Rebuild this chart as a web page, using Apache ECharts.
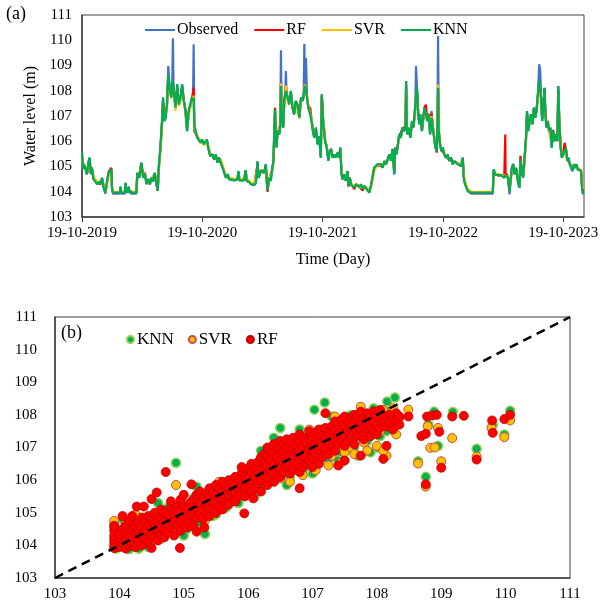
<!DOCTYPE html>
<html>
<head>
<meta charset="utf-8">
<script src="https://cdn.jsdelivr.net/npm/echarts@6/dist/echarts.min.js"></script>
<style>
html,body{margin:0;padding:0;background:#fff;}
#chart{width:607px;height:606px;}
</style>
</head>
<body>
<div id="chart"></div>
<script>
// ---- Panel (a): time series (day offsets from 19-10-2019) ----
const startYear = 2019;
const days = [
0,2,5,10,15,20,23,27,30,35,
41,46,51,56,61,66,71,76,81,86,
89,91,94,115,117,119,130,132,134,137,
139,142,144,147,149,165,168,174,180,186,
191,196,201,206,211,216,221,226,230,233,
238,243,246,250,254,258,262,266,271,274,
276,278,284,289,294,299,304,309,314,319,
324,329,334,337,339,341,345,350,355,360,
365,370,379,383,389,396,401,406,411,416,
421,427,432,437,442,447,452,462,472,475,
478,492,497,500,508,513,523,528,533,536,
543,548,553,558,563,568,573,578,581,586,
590,594,599,602,604,606,611,614,617,619,
621,624,629,634,639,644,649,654,660,665,
670,673,675,677,680,683,687,693,697,701,
705,710,715,720,725,728,732,738,743,748,
751,756,761,766,771,776,781,784,788,791,
796,801,806,809,813,817,822,827,832,837,
842,847,852,857,862,867,872,877,882,887,
892,897,903,908,913,918,923,928,933,938,
943,948,951,955,959,963,968,973,979,982,
984,986,988,992,997,1002,1006,1010,1012,1014,
1017,1020,1024,1027,1032,1036,1040,1044,1048,1052,
1057,1061,1065,1069,1073,1077,1079,1081,1083,1087,
1091,1095,1100,1105,1110,1115,1120,1125,1130,1136,
1141,1146,1151,1156,1159,1163,1167,1171,1176,1181,
1247,1250,1254,1258,1262,1267,1272,1277,1282,1284,
1285,1286,1289,1293,1298,1301,1305,1309,1313,1318,
1323,1328,1331,1335,1339,1343,1348,1351,1355,1359,
1363,1368,1372,1376,1380,1384,1388,1391,1394,1397,
1400,1404,1407,1410,1414,1418,1422,1426,1430,1434,
1438,1443,1446,1449,1453,1457,1461,1465,1469,1473,
1477,1481,1485,1489,1493,1497,1501,1505,1510,1515,
1518,1521
];
const observed = [
105.6,104.9,105.1,104.9,104.7,105.2,105.35,104.7,104.95,104.5,
104.55,104.3,104.4,104.3,104.55,104.15,103.92,104.4,104.75,104.8,
104.9,104.15,103.92,103.92,104.2,103.92,103.92,104.35,103.95,104.1,
103.95,104.2,103.95,104.05,103.92,103.92,104.75,104.55,105.15,104.55,
104.7,104.3,104.5,104.3,104.55,104.4,104.75,104.3,104.03,104.95,
105.75,106.8,107.73,106.8,106.93,107.46,108.98,108.12,107.73,108.3,
110.08,108.0,107.33,108.25,107.46,107.73,108.25,107.6,107.2,106.4,
107.2,107.46,107.73,107.6,109.84,106.6,106.4,106.14,106.2,105.94,
106.07,105.88,106.07,105.75,105.42,105.48,105.28,105.48,105.15,105.35,
105.35,104.95,104.75,104.55,104.7,104.5,104.45,104.45,104.5,104.82,
104.45,104.45,104.85,104.43,104.38,104.3,104.27,104.35,105.2,104.55,
104.82,104.89,104.75,105.09,104.03,104.55,104.43,104.95,105.2,107.26,
105.75,106.4,106.27,106.6,109.6,107.06,106.54,107.6,107.9,108.78,
107.9,107.73,107.46,107.99,107.33,107.06,107.6,107.46,106.93,107.73,
107.6,107.8,109.86,108.2,109.3,107.73,107.33,107.06,106.8,106.4,
106.14,106.54,105.88,106.2,105.35,107.86,106.8,106.0,105.75,105.22,
105.55,105.68,105.35,105.48,105.35,105.55,105.35,105.75,104.69,104.49,
104.69,104.43,104.82,104.23,104.56,104.29,104.36,104.16,104.29,104.23,
104.19,104.29,104.1,104.23,104.16,104.06,103.96,104.23,104.16,104.95,
105.02,105.09,105.02,105.09,104.95,105.22,105.09,105.28,105.48,105.22,
105.68,104.69,105.75,105.48,105.88,106.27,106.14,106.54,106.4,106.6,
108.39,106.6,106.27,106.54,106.14,106.8,106.54,107.07,107.5,108.98,
108.12,107.2,106.67,107.07,106.4,106.93,107.33,107.4,106.8,107.07,
106.27,107.2,106.54,106.14,105.75,105.61,106.6,110.17,106.4,105.88,
105.61,105.75,105.48,105.35,105.48,105.22,105.35,105.09,105.22,105.15,
105.09,105.15,105.02,105.35,104.56,104.29,104.16,104.03,104.1,103.92,
103.92,104.89,104.69,104.76,104.66,104.69,104.66,104.62,104.56,104.6,
104.6,104.6,104.69,104.56,103.9,104.43,104.95,105.09,104.69,104.95,
104.43,104.16,105.3,104.82,104.56,105.22,106.14,107.2,106.4,106.8,
107.07,106.67,107.33,106.93,107.2,107.86,109.05,108.8,107.6,106.8,
107.2,108.12,107.07,106.54,106.8,106.4,106.54,105.75,106.4,106.0,
106.27,106.0,108.19,106.8,105.75,105.35,105.48,105.61,105.75,105.22,
105.35,105.09,105.09,104.82,105.09,104.95,105.09,104.89,104.95,104.82,
104.16,103.9
];
const rfLine = [
105.5,105.0,105.1,104.95,104.7,105.1,105.3,104.75,104.9,104.55,
104.5,104.35,104.4,104.3,104.5,104.2,104.0,104.35,104.8,104.85,
104.95,104.2,103.98,103.98,104.15,103.98,103.98,104.3,104.0,104.05,
104.0,104.15,104.0,104.05,103.98,103.98,104.7,104.6,105.1,104.65,
104.75,104.35,104.5,104.3,104.5,104.45,104.7,104.35,104.05,104.9,
105.7,106.7,107.6,106.9,106.9,107.4,108.6,108.1,107.8,108.2,
108.3,108.1,107.4,108.1,107.5,107.7,108.15,107.65,107.25,106.5,
107.1,107.4,107.7,107.7,108.12,106.4,106.45,106.2,106.2,106.0,
106.05,105.9,106.0,105.8,105.5,105.45,105.3,105.45,105.2,105.3,
105.35,105.0,104.8,104.6,104.65,104.55,104.5,104.5,104.5,104.75,
104.5,104.5,104.8,104.45,104.4,104.3,104.3,104.35,105.1,104.6,
104.85,104.9,104.8,105.0,104.0,104.5,104.45,104.9,105.2,107.33,
105.8,106.35,106.3,106.65,108.3,107.0,106.6,107.55,107.95,108.1,
107.95,107.7,107.5,107.9,107.4,107.1,107.55,107.5,107.0,107.7,
107.6,107.8,108.2,108.15,108.0,107.8,107.4,107.3,106.85,106.5,
106.2,106.5,105.95,106.2,105.45,107.8,106.9,106.05,105.8,105.3,
105.5,105.7,105.4,105.45,105.4,105.5,105.4,105.7,104.75,104.5,
104.65,104.45,104.75,104.2,104.55,104.3,104.35,104.1,104.3,104.25,
104.2,104.25,104.05,104.2,104.2,104.1,104.0,104.2,104.2,104.9,
105.0,105.05,105.05,105.1,105.0,105.2,105.1,105.25,105.45,105.3,
105.7,104.8,105.7,105.55,105.85,106.2,106.2,106.5,106.45,106.6,
108.2,106.7,106.3,106.5,106.2,106.75,106.6,107.0,107.45,107.8,
108.0,107.3,106.7,107.0,106.45,106.9,107.35,107.45,106.85,107.1,
106.35,107.1,106.6,106.2,105.8,105.55,106.5,108.1,106.5,105.9,
105.65,105.7,105.5,105.4,105.45,105.25,105.35,105.15,105.2,105.15,
105.1,105.1,105.02,105.3,104.6,104.35,104.2,104.1,104.15,103.98,
103.98,104.8,104.7,104.7,104.65,104.7,104.65,104.6,104.6,104.6,
106.27,104.6,104.7,104.6,104.1,104.4,104.9,105.1,104.75,104.9,
104.5,104.2,105.42,104.85,104.6,105.2,106.1,107.1,106.5,106.75,
107.0,106.7,107.3,107.0,107.25,107.8,108.2,108.1,107.7,106.9,
107.15,108.0,107.1,106.6,106.8,106.5,106.55,105.85,106.45,106.05,
106.25,106.05,108.0,106.9,105.85,105.4,105.5,105.94,105.7,105.3,
105.35,105.1,105.1,104.9,105.05,104.95,105.05,104.9,104.95,104.85,
104.3,104.0
];
const svrLine = [
105.4,105.0,105.0,104.9,104.75,105.05,105.2,104.8,104.9,104.6,
104.5,104.4,104.35,104.35,104.5,104.25,104.02,104.3,104.7,104.8,
104.85,104.25,104.0,104.0,104.1,104.0,104.0,104.25,104.0,104.05,
104.0,104.1,104.0,104.05,104.0,104.0,104.6,104.6,105.0,104.6,
104.7,104.4,104.45,104.35,104.5,104.45,104.65,104.4,104.1,104.8,
105.6,106.6,107.5,106.9,106.85,107.3,108.5,108.0,107.7,108.1,
108.2,108.0,107.2,108.0,107.4,107.6,108.0,107.6,107.1,106.5,
107.0,107.35,107.6,107.55,107.8,106.5,106.5,106.2,106.1,106.0,
106.0,105.85,105.95,105.8,105.5,105.4,105.35,105.4,105.25,105.3,
105.3,105.05,104.85,104.65,104.6,104.55,104.5,104.5,104.5,104.7,
104.5,104.5,104.7,104.5,104.45,104.35,104.3,104.35,105.0,104.6,
104.8,104.85,104.75,104.95,104.1,104.5,104.5,104.85,105.1,107.1,
105.8,106.3,106.3,106.6,108.3,107.1,106.6,107.5,107.85,108.2,
107.9,107.65,107.45,107.85,107.4,107.15,107.5,107.45,106.9,107.6,
107.55,107.75,108.1,108.25,107.9,107.8,107.4,107.1,106.9,106.5,
106.2,106.45,106.0,106.15,105.5,107.6,106.9,106.1,105.8,105.35,
105.45,105.6,105.4,105.45,105.4,105.5,105.4,105.6,104.8,104.55,
104.6,104.5,104.7,104.3,104.5,104.35,104.35,104.2,104.3,104.25,
104.2,104.25,104.15,104.2,104.2,104.1,104.05,104.15,104.2,104.8,
104.95,105.05,105.05,105.1,105.0,105.15,105.1,105.2,105.4,105.3,
105.6,104.9,105.55,105.6,105.8,106.1,106.2,106.4,106.45,106.55,
108.0,106.7,106.35,106.5,106.25,106.7,106.6,106.95,107.4,107.9,
107.9,107.3,106.75,107.0,106.5,106.85,107.25,107.3,106.9,107.0,
106.4,107.0,106.6,106.2,105.85,105.65,106.4,108.25,106.5,105.95,
105.7,105.7,105.55,105.4,105.45,105.3,105.3,105.15,105.2,105.15,
105.1,105.1,105.05,105.2,104.7,104.4,104.25,104.1,104.1,104.0,
104.0,104.7,104.7,104.7,104.65,104.7,104.65,104.6,104.6,104.65,
104.7,104.65,104.7,104.6,104.2,104.35,104.8,105.0,104.8,104.9,
104.5,104.25,105.2,104.85,104.6,105.1,106.0,107.0,106.5,106.7,
107.0,106.75,107.2,107.0,107.15,107.7,108.3,108.0,107.6,106.95,
107.1,107.9,107.1,106.6,106.75,106.45,106.5,105.9,106.35,106.05,
106.2,106.0,107.9,106.8,105.9,105.45,105.45,105.6,105.65,105.3,
105.3,105.15,105.1,104.9,105.0,105.0,105.05,104.9,104.9,104.85,
104.4,104.1
];
const knnLine = [
105.55,104.9,105.1,104.9,104.7,105.2,105.35,104.7,104.95,104.5,
104.55,104.3,104.4,104.3,104.55,104.15,103.97,104.4,104.75,104.8,
104.9,104.15,103.97,103.97,104.2,103.97,103.97,104.35,103.97,104.1,
103.97,104.2,103.97,104.05,103.97,103.97,104.75,104.55,105.15,104.55,
104.7,104.3,104.5,104.3,104.55,104.4,104.75,104.3,104.05,104.95,
105.75,106.8,107.73,106.8,106.93,107.46,108.65,108.12,107.73,108.3,
108.4,108.0,107.33,108.25,107.46,107.73,108.25,107.6,107.2,106.4,
107.2,107.46,107.73,107.6,107.73,106.6,106.4,106.14,106.2,105.94,
106.07,105.88,106.07,105.75,105.42,105.48,105.28,105.48,105.15,105.35,
105.35,104.95,104.75,104.55,104.7,104.5,104.45,104.45,104.5,104.82,
104.45,104.45,104.85,104.43,104.38,104.3,104.27,104.35,105.2,104.55,
104.82,104.89,104.75,105.09,104.05,104.55,104.43,104.95,105.2,107.26,
105.75,106.4,106.27,106.6,108.19,107.06,106.54,107.6,107.9,107.99,
107.9,107.73,107.46,107.99,107.33,107.06,107.6,107.46,106.93,107.73,
107.6,107.8,108.06,108.2,108.0,107.73,107.33,107.06,106.8,106.4,
106.14,106.54,105.88,106.2,105.35,107.86,106.8,106.0,105.75,105.22,
105.55,105.68,105.35,105.48,105.35,105.55,105.35,105.75,104.69,104.49,
104.69,104.43,104.82,104.23,104.56,104.29,104.36,104.16,104.29,104.23,
104.19,104.29,104.1,104.23,104.16,104.06,103.96,104.23,104.16,104.95,
105.02,105.09,105.02,105.09,104.95,105.22,105.09,105.28,105.48,105.22,
105.68,104.69,105.75,105.48,105.88,106.27,106.14,106.54,106.4,106.6,
108.39,106.6,106.27,106.54,106.14,106.8,106.54,107.07,107.5,107.73,
108.12,107.2,106.67,107.07,106.4,106.93,107.33,107.4,106.8,107.07,
106.27,106.93,106.54,106.14,105.75,105.61,106.6,108.12,106.4,105.88,
105.61,105.75,105.48,105.35,105.48,105.22,105.35,105.09,105.22,105.15,
105.09,105.15,105.02,105.35,104.56,104.29,104.16,104.03,104.1,103.97,
103.97,104.89,104.69,104.76,104.66,104.69,104.66,104.62,104.56,104.6,
104.65,104.6,104.69,104.56,104.0,104.43,104.95,105.09,104.69,104.95,
104.43,104.16,105.3,104.82,104.56,105.22,106.14,107.2,106.4,106.8,
107.07,106.67,107.33,106.93,107.2,107.86,108.39,108.12,107.6,106.8,
107.2,108.12,107.07,106.54,106.8,106.4,106.54,105.75,106.4,106.0,
106.27,106.0,108.19,106.8,105.75,105.35,105.48,105.61,105.75,105.22,
105.35,105.09,105.09,104.82,105.09,104.95,105.09,104.89,104.95,104.82,
104.16,103.9
];

// ---- Panel (b): observed vs predicted ----
const knnScatter = [
[103.92,104.65],[103.95,103.9],[104.05,104.8],[104.15,103.88],[104.25,104.2],[104.35,104.85],[104.45,103.95],
[104.55,104.95],[104.65,104.2],[104.75,105.15],[104.88,106.53],[104.85,104.35],[104.95,105.25],[105.05,104.5],
[105.15,105.45],[105.25,104.7],[105.33,104.35],[105.35,105.6],[105.45,104.9],[105.55,105.75],[105.65,105.15],
[105.75,105.95],[105.85,105.3],[105.95,106.25],[106.05,105.6],[106.15,106.5],[106.25,105.85],[106.35,106.8],
[106.45,106.05],[106.55,107.0],[106.65,106.1],[106.5,107.6],[106.75,107.2],[106.85,106.3],[106.95,107.4],
[107.03,108.16],[107.05,106.5],[107.15,107.55],[107.19,108.38],[107.25,106.65],[107.35,107.7],[107.45,106.8],
[107.55,107.9],[107.65,107.0],[107.75,108.05],[107.85,107.2],[107.95,108.2],[108.05,107.35],[108.16,108.41],
[108.28,108.53],[108.15,107.5],[108.3,107.7],[108.64,106.58],[108.76,106.1],[108.89,108.1],[108.95,107.05],
[109.18,108.09],[109.55,106.96],[109.8,107.7],[109.98,107.4],[110.07,108.13],[108.8,107.7],[106.4,107.3],
[106.6,105.85],[107.0,106.2],[107.4,106.6],[107.7,106.75],[108.0,107.0],[105.2,105.8],[104.1,104.5],
[104.3,103.9],[104.6,105.3],[105.0,104.3],[105.5,104.95],[105.9,106.35],[106.2,106.9],[106.8,107.55],
[107.3,107.95],[107.6,108.0],[107.9,106.85],[108.2,108.1],[104.0,104.2],[104.2,104.7],[104.4,104.3],
[104.8,104.6],[105.1,105.0],[105.4,105.3],[105.7,105.6],[106.0,105.95],[106.3,106.4],[106.6,106.6],
[106.9,106.9],[107.1,107.2],[107.5,107.4],[107.8,107.6],[108.1,107.8],[108.25,107.95],[106.1,105.5]
];
const svrScatter = [
[103.92,104.55],[103.92,104.75],[104.0,104.1],[104.1,104.65],[104.2,104.35],[104.3,104.8],[104.4,104.6],
[104.5,104.15],[104.6,104.9],[104.7,104.4],[104.8,105.05],[104.88,105.85],[104.9,104.5],[105.0,105.3],
[105.1,104.6],[105.2,105.5],[105.33,104.76],[105.3,105.0],[105.4,105.65],[105.5,105.2],[105.6,105.8],
[105.7,105.4],[105.8,106.0],[105.9,105.55],[106.0,106.3],[106.1,105.7],[106.2,106.55],[106.3,105.95],
[106.4,106.75],[106.5,106.05],[106.6,106.9],[106.65,105.95],[106.7,106.3],[106.8,107.1],[106.85,106.15],
[106.9,106.45],[107.0,107.35],[107.05,106.3],[107.1,106.6],[107.2,107.5],[107.25,106.45],[107.3,106.75],
[107.4,107.65],[107.45,106.55],[107.5,106.85],[107.55,107.75],[107.6,107.0],[107.65,106.8],[107.7,107.9],
[107.75,108.25],[107.8,107.15],[107.85,106.9],[107.9,107.35],[107.95,108.1],[108.0,107.05],[108.05,107.5],
[108.1,108.15],[108.15,106.75],[108.2,107.65],[108.25,108.2],[108.3,107.4],[108.35,107.9],[108.49,108.16],
[108.64,106.51],[108.76,105.8],[108.79,107.65],[108.83,106.99],[108.9,107.0],[108.95,107.6],[109.0,106.58],
[109.17,107.29],[109.55,106.72],[109.78,107.6],[109.98,107.32],[110.07,107.83],[106.45,107.05],[105.55,105.95],
[104.25,104.95],[106.95,107.55],[107.35,107.95],[108.1,106.9],[106.25,106.65],[104.05,104.35],[104.45,104.45],
[104.65,104.7],[105.05,104.9],[105.25,105.2],[105.45,105.45],[105.65,105.5],[105.85,105.8],[106.05,106.0],
[106.35,106.3],[106.55,106.5],[106.75,106.7],[106.95,106.95],[107.15,107.1],[107.35,107.3],[107.55,107.45],
[107.85,107.7],[108.05,107.85]
];
const rfScatter = [
[103.92,103.92],[103.92,104.0],[103.92,104.1],[103.92,104.2],[103.92,104.3],[103.92,104.45],[103.92,104.6],
[104.0,103.95],[104.0,104.15],[104.0,104.35],[104.05,104.05],[104.05,104.5],[104.05,104.9],
[104.1,103.9],[104.1,104.2],[104.1,104.4],[104.1,104.6],[104.15,104.0],[104.15,104.3],[104.15,104.75],
[104.2,104.1],[104.2,104.25],[104.2,104.5],[104.2,104.9],[104.25,103.95],[104.25,104.35],[104.25,104.6],[104.27,105.19],
[104.3,104.15],[104.3,104.4],[104.3,104.7],[104.35,104.0],[104.35,104.3],[104.35,104.55],[104.35,104.85],[104.38,105.19],
[104.4,104.2],[104.4,104.45],[104.4,104.75],[104.45,104.1],[104.45,104.6],[104.45,104.9],
[104.5,103.92],[104.5,104.3],[104.5,104.5],[104.5,104.8],[104.5,105.42],[104.55,104.25],[104.55,104.65],[104.55,105.0],
[104.6,104.15],[104.6,104.45],[104.6,104.7],[104.58,105.62],[104.65,104.35],[104.65,104.55],[104.65,104.85],[104.65,105.1],
[104.7,104.25],[104.7,104.5],[104.7,104.75],[104.7,105.0],[104.72,106.25],[104.75,104.4],[104.75,104.65],[104.75,104.95],
[104.8,104.55],[104.8,104.8],[104.8,105.15],[104.8,105.35],[104.85,104.3],[104.85,104.7],[104.85,105.0],
[104.9,104.6],[104.9,104.85],[104.9,105.2],[104.94,103.92],[104.95,104.45],[104.95,104.75],[104.95,105.05],[104.95,105.4],
[105.0,104.65],[105.0,104.9],[105.0,105.2],[105.0,105.55],[105.05,104.55],[105.05,104.8],[105.05,105.1],
[105.1,104.7],[105.1,104.95],[105.1,105.3],[105.12,105.87],[105.15,104.6],[105.15,105.05],[105.15,105.4],
[105.2,104.42],[105.2,104.85],[105.2,105.15],[105.2,105.55],[105.25,104.95],[105.25,105.3],[105.25,105.65],
[105.3,104.8],[105.3,105.1],[105.3,105.45],[105.32,104.55],[105.35,105.0],[105.35,105.25],[105.35,105.6],
[105.4,104.9],[105.4,105.2],[105.4,105.5],[105.4,105.75],[105.45,105.1],[105.45,105.35],[105.45,105.65],
[105.5,105.0],[105.5,105.3],[105.5,105.55],[105.5,105.85],[105.55,105.2],[105.55,105.45],[105.55,105.75],
[105.6,105.1],[105.6,105.4],[105.6,105.65],[105.6,105.95],[105.65,105.3],[105.65,105.55],[105.65,105.85],
[105.7,105.25],[105.7,105.5],[105.7,105.75],[105.7,106.0],[105.75,105.45],[105.75,105.65],[105.75,105.9],
[105.8,105.35],[105.8,105.6],[105.8,105.85],[105.8,106.1],[105.85,105.5],[105.85,105.75],[105.85,106.0],
[105.9,105.6],[105.9,105.85],[105.9,106.2],[105.9,106.4],[105.94,104.98],[105.95,105.5],[105.95,105.75],[105.95,106.1],
[106.0,105.8],[106.0,106.05],[106.0,106.35],[106.05,105.65],[106.05,105.95],[106.05,106.25],[106.05,106.5],[106.08,105.44],
[106.1,105.75],[106.1,106.1],[106.1,106.4],[106.15,105.9],[106.15,106.2],[106.15,106.55],
[106.2,105.65],[106.2,106.0],[106.2,106.35],[106.2,106.7],[106.25,106.15],[106.25,106.5],[106.25,106.8],
[106.3,105.85],[106.3,106.1],[106.3,106.45],[106.3,106.75],[106.3,107.0],[106.35,106.3],[106.35,106.6],[106.35,106.9],
[106.4,105.95],[106.4,106.2],[106.4,106.5],[106.4,106.85],[106.4,107.1],[106.45,106.4],[106.45,106.7],[106.45,107.0],
[106.5,106.1],[106.5,106.35],[106.5,106.6],[106.5,106.95],[106.5,107.2],[106.55,106.25],[106.55,106.55],[106.55,106.85],[106.55,107.1],
[106.6,106.4],[106.6,106.7],[106.6,107.0],[106.6,107.25],[106.65,106.2],[106.65,106.5],[106.65,106.8],[106.65,107.15],
[106.7,106.35],[106.7,106.65],[106.7,106.95],[106.7,107.3],[106.75,106.5],[106.75,106.85],[106.75,107.1],
[106.8,105.75],[106.8,106.25],[106.8,106.6],[106.8,106.9],[106.8,107.2],[106.8,107.4],[106.85,106.4],[106.85,106.75],[106.85,107.05],[106.85,107.3],
[106.9,106.5],[106.9,106.8],[106.9,107.15],[106.95,106.6],[106.95,106.95],[106.95,107.25],[106.95,107.5],
[107.0,106.4],[107.0,106.7],[107.0,107.0],[107.0,107.35],[107.05,106.8],[107.05,107.1],[107.05,107.45],
[107.1,106.5],[107.1,106.9],[107.1,107.2],[107.1,107.55],[107.15,106.7],[107.15,107.05],[107.15,107.35],
[107.2,106.95],[107.2,107.25],[107.2,107.6],[107.2,108.05],[107.25,106.8],[107.25,107.15],[107.25,107.45],
[107.3,107.0],[107.3,107.3],[107.3,107.65],[107.35,106.9],[107.35,107.2],[107.35,107.5],[107.35,107.8],
[107.4,106.45],[107.4,107.1],[107.4,107.4],[107.4,107.7],[107.45,107.25],[107.45,107.55],[107.45,107.85],
[107.5,106.6],[107.5,107.05],[107.5,107.35],[107.5,107.65],[107.5,107.95],[107.55,107.2],[107.55,107.5],[107.55,107.8],
[107.6,107.3],[107.6,107.6],[107.6,107.9],[107.65,107.1],[107.65,107.45],[107.65,107.75],[107.65,108.0],
[107.7,107.35],[107.7,107.65],[107.7,107.95],[107.75,106.75],[107.75,107.55],[107.75,107.85],[107.75,108.1],
[107.8,107.25],[107.8,107.6],[107.8,107.9],[107.85,107.45],[107.85,107.75],[107.85,108.05],
[107.9,107.35],[107.9,107.65],[107.9,107.95],[107.95,107.5],[107.95,107.8],[107.95,108.1],
[108.0,107.4],[108.0,107.7],[108.0,107.95],[108.05,107.6],[108.05,107.85],[108.05,108.15],
[108.1,106.65],[108.1,107.8],[108.1,108.0],[108.15,107.05],[108.15,107.65],[108.15,107.95],
[108.2,107.75],[108.2,108.0],[108.25,107.55],[108.25,107.9],[108.3,107.8],[108.3,108.05],[108.35,107.7],[108.35,107.95],
[108.49,107.95],[108.69,107.35],[108.76,107.42],[108.76,105.87],[108.78,107.95],[108.86,107.98],[108.93,108.0],
[108.97,107.48],[109.0,106.38],[109.17,107.95],[109.35,107.97],[109.55,106.63],[109.79,107.83],[109.8,107.45],
[109.98,107.87],[110.07,108.0]
];
const diagonal = [[103,103],[111,111]];
const yTicks = {min: 103, max: 111, interval: 1};

const FONT = '"Liberation Serif","Times New Roman",serif';
const C_OBS = '#4472C4', C_RF = '#FF0000', C_SVR = '#FFC000', C_KNN = '#00B050';

function pairs(vals) { return days.map((d, i) => [d, vals[i]]); }

const chart = echarts.init(document.getElementById('chart'), null, {renderer: 'canvas'});
const lineSeries = (name, vals, color) => ({
  name, type: 'line', xAxisIndex: 0, yAxisIndex: 0, data: pairs(vals),
  symbol: 'none', showSymbol: false, sampling: null,
  lineStyle: {color, width: 2.2}, itemStyle: {color}
});
const scatterSeries = (name, data, color, border, bw) => ({
  name, type: 'scatter', xAxisIndex: 1, yAxisIndex: 1, data,
  symbol: 'circle', symbolSize: 9,
  itemStyle: {color, borderColor: border, borderWidth: bw, opacity: 1}
});

chart.setOption({
  animation: false,
  textStyle: {fontFamily: FONT, color: '#000'},
  grid: [
    {left: 82, right: 23, top: 15, height: 202, show: true, borderColor: '#404040', borderWidth: 1},
    {left: 55, right: 37, top: 317, height: 261, show: true, borderColor: '#404040', borderWidth: 1}
  ],
  legend: [
    {
      left: 140, top: 17, itemWidth: 30, itemHeight: 2, itemGap: 16, icon: 'rect',
      data: ['Observed', 'RF', 'SVR', 'KNN'],
      textStyle: {fontFamily: FONT, fontSize: 16, color: '#000', padding: [0, 0, 0, -3]}
    },
    {
      left: 121, top: 326, itemWidth: 7, itemHeight: 7, itemGap: 14, icon: 'circle',
      data: ['KNN_s', 'SVR_s', 'RF_s'],
      formatter: n => n.replace('_s', ''),
      textStyle: {fontFamily: FONT, fontSize: 17, color: '#000', padding: [0, 0, 0, -2]}
    }
  ],
  xAxis: [
    {
      gridIndex: 0, type: 'value', min: 0, max: 1524, interval: 365.25,
      name: 'Time (Day)', nameLocation: 'middle', nameGap: 35,
      nameTextStyle: {fontFamily: FONT, fontSize: 16, color: '#000'},
      axisLine: {lineStyle: {color: '#404040', width: 1.5}},
      axisTick: {show: true, inside: false, length: 5, lineStyle: {color: '#404040'}},
      axisLabel: {fontFamily: FONT, fontSize: 15, color: '#000', margin: 9,
        formatter: v => '19-10-' + (startYear + Math.round(v / 365.25))},
      splitLine: {show: false}
    },
    {
      gridIndex: 1, type: 'value', min: yTicks.min, max: yTicks.max, interval: yTicks.interval,
      axisLine: {lineStyle: {color: '#404040', width: 1.5}},
      axisTick: {show: false},
      axisLabel: {fontFamily: FONT, fontSize: 15, color: '#000', margin: 9},
      splitLine: {show: false}
    }
  ],
  yAxis: [
    {
      gridIndex: 0, type: 'value', min: yTicks.min, max: yTicks.max, interval: yTicks.interval,
      name: 'Water level (m)', nameLocation: 'middle', nameGap: 33,
      nameTextStyle: {fontFamily: FONT, fontSize: 16, color: '#000'},
      axisLine: {show: true, lineStyle: {color: '#404040', width: 1.5}},
      axisTick: {show: false},
      axisLabel: {fontFamily: FONT, fontSize: 15, color: '#000', margin: 10},
      splitLine: {show: false}
    },
    {
      gridIndex: 1, type: 'value', min: yTicks.min, max: yTicks.max, interval: yTicks.interval,
      axisLine: {show: true, lineStyle: {color: '#404040', width: 1.5}},
      axisTick: {show: false},
      axisLabel: {fontFamily: FONT, fontSize: 15, color: '#000', margin: 18},
      splitLine: {show: false}
    }
  ],
  graphic: [
    {type: 'text', left: 6, top: 5, style: {text: '(a)', font: '18px ' + FONT, fill: '#000'}},
    {type: 'text', left: 61, top: 324, style: {text: '(b)', font: '18px ' + FONT, fill: '#000'}}
  ],
  series: [
    lineSeries('Observed', observed, C_OBS),
    lineSeries('RF', rfLine, C_RF),
    lineSeries('SVR', svrLine, C_SVR),
    lineSeries('KNN', knnLine, C_KNN),
    scatterSeries('KNN_s', knnScatter, C_KNN, '#92D050', 1.5),
    scatterSeries('SVR_s', svrScatter, C_SVR, '#C0504D', 1),
    scatterSeries('RF_s', rfScatter, C_RF, '#C00000', 0.8),
    {
      name: 'diag', type: 'line', xAxisIndex: 1, yAxisIndex: 1, data: diagonal,
      symbol: 'none', silent: true,
      lineStyle: {color: '#000', width: 2.5, type: [9, 6]}, z: 5
    }
  ]
});
</script>
</body>
</html>
